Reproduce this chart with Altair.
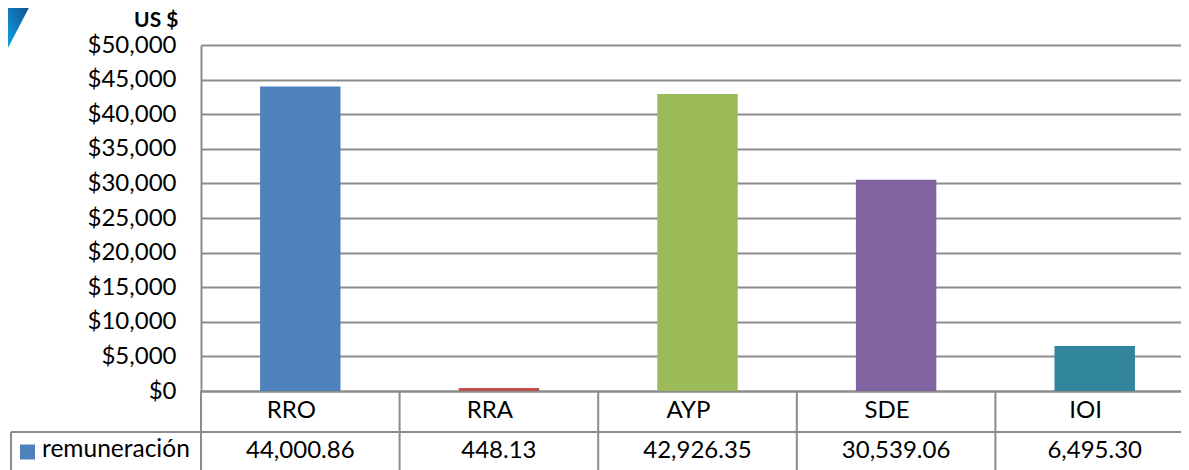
import altair as alt
import pandas as pd

categories = ["RRO", "RRA", "AYP", "SDE", "IOI"]
values = [44000.86, 448.13, 42926.35, 30539.06, 6495.30]
colors = ["#4F81BD", "#C0504D", "#9BBB59", "#8064A2", "#31859C"]
series_name = "remuneración"
y_ticks = [0, 5000, 10000, 15000, 20000, 25000, 30000, 35000, 40000, 45000, 50000]

df = pd.DataFrame({"cat": categories, "val": values, "color": colors})

W = 980          # visible plot width (page is cut at the right edge)
XR = 993         # full width of the five table columns
H = 346
FONT = "Lato"
FS = 24
LINE = "#8c8c8c"

xscale = alt.Scale(domain=categories, range=[0, XR], paddingInner=0.595, paddingOuter=0.2975)

base = alt.Chart(df)

bars = base.mark_bar().encode(
    x=alt.X("cat:N", scale=xscale, sort=categories,
            axis=alt.Axis(title=None, labels=False, ticks=False, domain=True,
                          domainColor=LINE, domainWidth=2, grid=False)),
    y=alt.Y("val:Q", scale=alt.Scale(domain=[0, 50000], nice=False),
            axis=alt.Axis(values=y_ticks, format="$,.0f", ticks=False,
                          labelPadding=25, labelFont=FONT, labelFontSize=FS,
                          labelColor="#000000", grid=True, gridColor=LINE,
                          gridWidth=2, domainColor=LINE, domainWidth=2,
                          title="US $", titleAngle=0, titleAlign="right",
                          titleBaseline="middle", titleX=-23, titleY=-25,
                          titleFont=FONT, titleFontSize=21, titleFontWeight="bold",
                          titleColor="#000000")),
    color=alt.Color("color:N", scale=None),
)

# table column borders, derived from the band scale
col_lines = base.mark_rule(color=LINE, strokeWidth=2).encode(
    x=alt.X("cat:N", scale=xscale, sort=categories, bandPosition=0),
    xOffset=alt.value(-0.595 * (XR / 5) / 2),
    y=alt.value(H),
    y2=alt.value(H + 100),
)

one = alt.Data(values=[{"k": 1}])

row_line = alt.Chart(one).mark_rule(color=LINE, strokeWidth=2).encode(
    x=alt.value(-190), x2=alt.value(XR), y=alt.value(H + 41))
left_line = alt.Chart(one).mark_rule(color=LINE, strokeWidth=2).encode(
    x=alt.value(-190), y=alt.value(H + 41), y2=alt.value(H + 100))

cat_text = base.mark_text(font=FONT, fontSize=FS, color="#000000", baseline="middle", dx=-9).encode(
    x=alt.X("cat:N", scale=xscale, sort=categories),
    y=alt.value(H + 20),
    text="cat:N",
)
val_text = base.mark_text(font=FONT, fontSize=FS, color="#000000", baseline="middle").encode(
    x=alt.X("cat:N", scale=xscale, sort=categories),
    y=alt.value(H + 60),
    text=alt.Text("val:Q", format=",.2f"),
)

legend_sq = alt.Chart(one).mark_square(size=225, color=colors[0], opacity=1).encode(
    x=alt.value(-173.5), y=alt.value(H + 61))
legend_txt = alt.Chart(alt.Data(values=[{"t": series_name}])).mark_text(
    font=FONT, fontSize=24.5, color="#000000", align="left", baseline="middle").encode(
    x=alt.value(-159), y=alt.value(H + 59), text="t:N")

corner = alt.Chart(one).mark_point(
    shape="M-1,-1 L-0.057,-1 L-1,0.8 Z", size=4900, filled=True, opacity=1,
    strokeWidth=0,
    fill=alt.LinearGradient(gradient="linear", x1=1, y1=0, x2=0, y2=1,
                            stops=[alt.GradientStop(color="#1b3f7e", offset=0),
                                   alt.GradientStop(color="#0b8fd0", offset=0.6),
                                   alt.GradientStop(color="#14b2ec", offset=1)]),
).encode(x=alt.value(-166), y=alt.value(-10))

chart = alt.layer(bars, col_lines, row_line, left_line, cat_text, val_text,
                  legend_sq, legend_txt, corner).properties(
    width=W, height=H,
    autosize=alt.AutoSizeParams(type="none"),
    padding={"left": 193, "top": 37, "right": 0, "bottom": 79},
).configure_view(stroke=None)

chart.save("out.html", embed_options={"renderer": "svg", "actions": False})
